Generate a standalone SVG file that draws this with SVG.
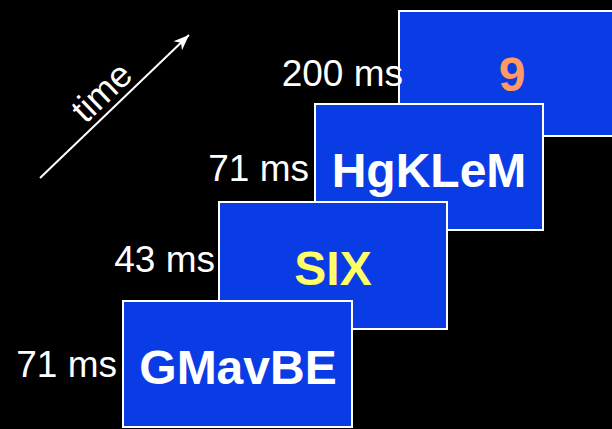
<svg xmlns="http://www.w3.org/2000/svg" width="612" height="429" viewBox="0 0 612 429">
  <style>
    .card { fill: #0a3ce6; stroke: #ffffff; stroke-width: 2; }
    .word { font-family: "Liberation Sans", Arial, sans-serif; font-weight: bold; font-size: 48px; text-anchor: middle; }
    .ms { font-family: "Liberation Sans", Arial, sans-serif; font-size: 37px; fill: #ffffff; text-anchor: end; }
    .time { font-family: "Liberation Sans", Arial, sans-serif; font-size: 36px; fill: #ffffff; text-anchor: middle; }
  </style>
  <defs>
    <marker id="head" markerUnits="userSpaceOnUse" markerWidth="20" markerHeight="20" viewBox="-16 -8 18 16" refX="0" refY="0" orient="auto">
      <path d="M0,0 L-14,-5.5 L-10,0 L-14,5.5 Z" fill="#ffffff"/>
    </marker>
  </defs>
  <rect x="0" y="0" width="612" height="429" fill="#000000"/>

  <g id="connectors">
    <line x1="40" y1="178" x2="189" y2="35" stroke="#ffffff" stroke-width="2" marker-end="url(#head)"/>
  </g>
  <text class="time" x="110" y="101" transform="rotate(-43.8 110 101)">time</text>

  <g id="frame-9">
    <rect class="card" x="399" y="11" width="229" height="125"/>
    <text class="word" x="512" y="91" fill="#ff9966">9</text>
    <text class="ms" x="403" y="86">200 ms</text>
  </g>

  <g id="frame-hgklem">
    <rect class="card" x="315" y="104" width="228" height="126"/>
    <text class="word" x="429" y="187" fill="#ffffff">HgKLeM</text>
    <text class="ms" x="309" y="181">71 ms</text>
  </g>

  <g id="frame-six">
    <rect class="card" x="219" y="202" width="228" height="127"/>
    <text class="word" x="333" y="285" fill="#ffff66">SIX</text>
    <text class="ms" x="215" y="272">43 ms</text>
  </g>

  <g id="frame-gmavbe">
    <rect class="card" x="123" y="301" width="229" height="126"/>
    <text class="word" x="238" y="384" fill="#ffffff">GMavBE</text>
    <text class="ms" x="117" y="377">71 ms</text>
  </g>
</svg>
